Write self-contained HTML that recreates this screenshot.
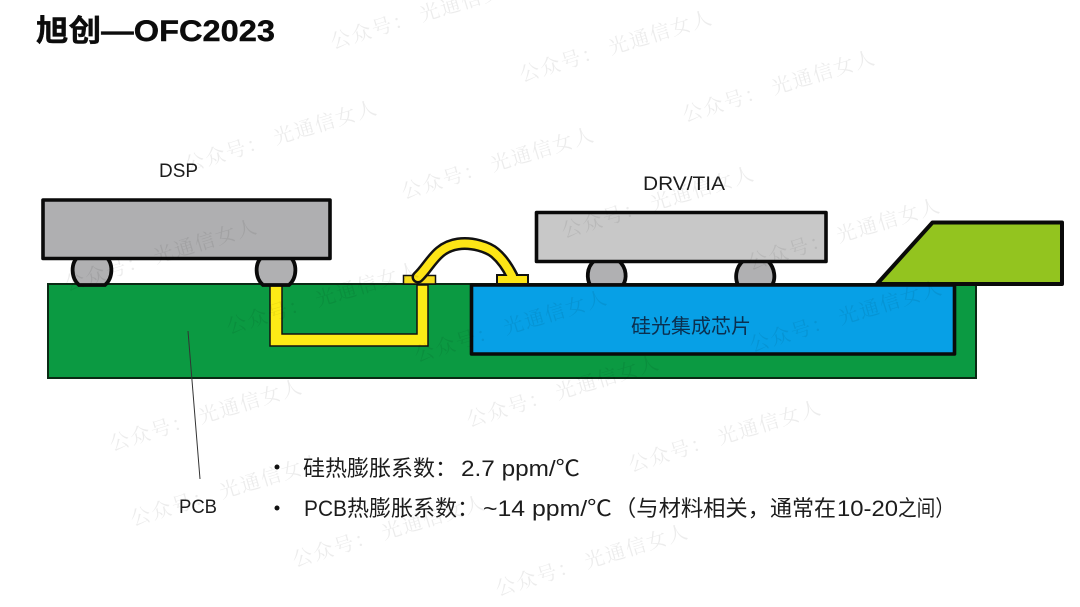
<!DOCTYPE html>
<html><head><meta charset="utf-8">
<style>
html,body{margin:0;padding:0;background:#fff;width:1080px;height:607px;overflow:hidden}
svg{display:block}
.t{font-family:"Liberation Sans","Noto Sans CJK SC",sans-serif;fill:#1c1c1c}
.w{font-family:"Liberation Serif","Noto Serif CJK SC",serif;font-size:20px;fill:#000;fill-opacity:.075;letter-spacing:1.6px}
</style></head><body>
<svg width="1080" height="607" viewBox="0 0 1080 607" xmlns="http://www.w3.org/2000/svg">
<rect width="1080" height="607" fill="#fff"/>
<!-- PCB -->
<rect x="48" y="284" width="928" height="94" fill="#0b9a42" stroke="#0a2a14" stroke-width="2"/>
<!-- via trace -->
<path d="M270 285V346H428V285H417V334H282V285Z" fill="#fdeb16" stroke="#111" stroke-width="1.500"/>
<!-- Bumps -->
<g fill="#b0b0b2" stroke="#0a0a0a" stroke-width="3.800">
<path d="M79 256C70 263 71 278 79 285H105C113 278 114 263 105 256Z"/>
<path d="M263 256C254 263 255 278 263 285H289C297 278 298 263 289 256Z"/>
<path d="M594 261C586 268 587 279 590 285H623C627 279 627 268 619 261Z"/>
<path d="M743 261C735 268 735 279 738 285H772C776 279 775 268 768 261Z"/>
</g>
<!-- DSP -->
<rect x="43" y="200" width="287" height="58.500" fill="#afafb1" stroke="#0a0a0a" stroke-width="3.600" stroke-linejoin="round"/>
<!-- DRV -->
<rect x="536.500" y="212.500" width="289.500" height="49" fill="#c8c8c8" stroke="#0a0a0a" stroke-width="3.600" stroke-linejoin="round"/>
<!-- Blue chip -->
<rect x="471.500" y="285" width="483" height="69" fill="#07a0e6" stroke="#0a0a0a" stroke-width="3.600" stroke-linejoin="round"/>
<!-- Green fiber block -->
<path d="M877 284L932.500 222.500H1062V284Z" fill="#93c41f" stroke="#0a0a0a" stroke-width="4" stroke-linejoin="round"/>
<!-- Pads -->
<rect x="403.500" y="275.500" width="32" height="8.500" fill="#f7dd1d" stroke="#111" stroke-width="1.500"/>
<rect x="497" y="275" width="31" height="8.500" fill="#fde516" stroke="#111" stroke-width="2"/>
<!-- Wire -->
<path d="M418 277C430 266 436 247 458 244C472 242 488 247 495 253C502 259 508 268 512 276" fill="none" stroke="#111" stroke-width="13" stroke-linecap="round" stroke-linejoin="round"/>
<path d="M418 277C430 266 436 247 458 244C472 242 488 247 495 253C502 259 508 268 512 276" fill="none" stroke="#fde516" stroke-width="8" stroke-linecap="round"/>
<rect x="498" y="276" width="29" height="7" fill="#fde516"/>
<!-- Leader -->
<line x1="188" y1="331" x2="200" y2="479" stroke="#333" stroke-width="1"/>
<!-- Text -->
<text class="t" x="36" y="41" font-size="30" font-weight="700" textLength="239" lengthAdjust="spacingAndGlyphs" style="fill:#0c0c0c;stroke:#0c0c0c;stroke-width:.4">旭创—OFC2023</text>
<text class="t" x="159" y="177" font-size="19" textLength="39" lengthAdjust="spacingAndGlyphs">DSP</text>
<text class="t" x="643" y="190" font-size="19" textLength="82" lengthAdjust="spacingAndGlyphs">DRV/TIA</text>
<text class="t" x="631" y="333" font-size="20" textLength="120" lengthAdjust="spacingAndGlyphs" style="fill:#0b2f4f">硅光集成芯片</text>
<text class="t" x="179" y="513" font-size="19" textLength="38" lengthAdjust="spacingAndGlyphs">PCB</text>
<circle cx="277" cy="467" r="2.500" fill="#111"/>
<circle cx="277" cy="508" r="2.500" fill="#111"/>
<text class="t" x="303" y="476" font-size="22" textLength="154" lengthAdjust="spacingAndGlyphs">硅热膨胀系数：</text>
<text class="t" x="461" y="476" font-size="22" textLength="119" lengthAdjust="spacingAndGlyphs">2.7 ppm/℃</text>
<text class="t" x="304" y="516" font-size="22" textLength="43" lengthAdjust="spacingAndGlyphs">PCB</text>
<text class="t" x="347" y="516" font-size="22" textLength="132" lengthAdjust="spacingAndGlyphs">热膨胀系数：</text>
<text class="t" x="483" y="516" font-size="22" textLength="129" lengthAdjust="spacingAndGlyphs">~14 ppm/℃</text>
<text class="t" x="614" y="516" font-size="22" textLength="156" lengthAdjust="spacingAndGlyphs">（与材料相关，</text>
<text class="t" x="770" y="516" font-size="22" textLength="66" lengthAdjust="spacingAndGlyphs">通常在</text>
<text class="t" x="837" y="516" font-size="22" textLength="61" lengthAdjust="spacingAndGlyphs">10-20</text>
<text class="t" x="898" y="516" font-size="22" textLength="56" lengthAdjust="spacingAndGlyphs">之间）</text>
<!-- Watermarks -->
<g>
<text class="w" transform="translate(333,49) rotate(-17)">公众号： 光通信女人</text>
<text class="w" transform="translate(522,82) rotate(-17)">公众号： 光通信女人</text>
<text class="w" transform="translate(685,122) rotate(-17)">公众号： 光通信女人</text>
<text class="w" transform="translate(187,172) rotate(-17)">公众号： 光通信女人</text>
<text class="w" transform="translate(404,199) rotate(-17)">公众号： 光通信女人</text>
<text class="w" transform="translate(564,238) rotate(-17)">公众号： 光通信女人</text>
<text class="w" transform="translate(750,270) rotate(-17)">公众号： 光通信女人</text>
<text class="w" transform="translate(67,291) rotate(-17)">公众号： 光通信女人</text>
<text class="w" transform="translate(229,334) rotate(-17)">公众号： 光通信女人</text>
<text class="w" transform="translate(417,362) rotate(-17)">公众号： 光通信女人</text>
<text class="w" transform="translate(752,352) rotate(-17)">公众号： 光通信女人</text>
<text class="w" transform="translate(112,451) rotate(-17)">公众号： 光通信女人</text>
<text class="w" transform="translate(469,427) rotate(-17)">公众号： 光通信女人</text>
<text class="w" transform="translate(631,472) rotate(-17)">公众号： 光通信女人</text>
<text class="w" transform="translate(133,526) rotate(-17)">公众号： 光通信女人</text>
<text class="w" transform="translate(295,567) rotate(-17)">公众号： 光通信女人</text>
<text class="w" transform="translate(498,596) rotate(-17)">公众号： 光通信女人</text>
</g>
</svg>
</body></html>
